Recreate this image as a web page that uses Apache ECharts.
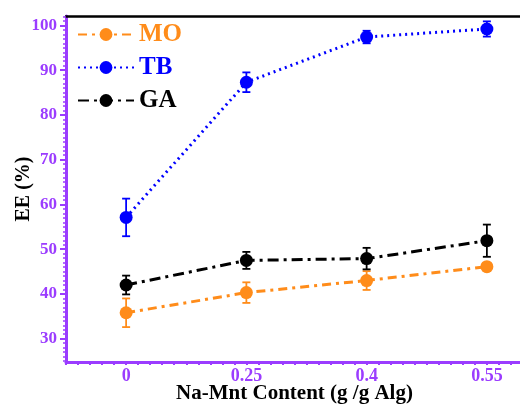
<!DOCTYPE html>
<html><head><meta charset="utf-8">
<script src="https://cdn.jsdelivr.net/npm/echarts@6/dist/echarts.min.js"></script>
<style>html,body{margin:0;padding:0;background:#fff}#c{width:520px;height:406px}</style>
</head><body><div id="c"></div>
<script>
const categories = ['0', '0.25', '0.4', '0.55'];
const seriesNames = ['MO', 'TB', 'GA'];
const moValues = [35.8, 40.3, 43.0, 46.1];
const moErrors = [3.2, 2.3, 2.1, 0.8];
const tbValues = [57.1, 87.3, 97.4, 99.2];
const tbErrors = [4.2, 2.2, 1.4, 1.7];
const gaValues = [42.0, 47.5, 47.9, 51.9];
const gaErrors = [2.1, 1.9, 2.4, 3.6];
const yMajorTicks = [30, 40, 50, 60, 70, 80, 90, 100];

const FONT = 'Liberation Serif';
const PURPLE = '#9b3cff';
const colors = { MO: '#ff8c1a', TB: '#0000ff', GA: '#000000' };
const lineTypes = { MO: [9, 5, 3, 5], TB: [2, 4], GA: [11, 5, 3, 5] };
const valuesBy = { MO: moValues, TB: tbValues, GA: gaValues };
const errorsBy = { MO: moErrors, TB: tbErrors, GA: gaErrors };

const yMinorTicks = [];
for (let v = 25; v <= 102; v++) yMinorTicks.push(v);

const Y_MIN = 24.8, Y_MAX = 102.1;

const chart = echarts.init(document.getElementById('c'));

function errRender(color) {
  return function (params, api) {
    const x = api.value(0), y = api.value(1), e = api.value(2);
    const hi = api.coord([x, y + e]);
    const lo = api.coord([x, y - e]);
    const cw = 4;
    const st = { stroke: color, lineWidth: 1.8 };
    return {
      type: 'group',
      children: [
        { type: 'line', shape: { x1: hi[0], y1: hi[1], x2: lo[0], y2: lo[1] }, style: st },
        { type: 'line', shape: { x1: hi[0] - cw, y1: hi[1], x2: hi[0] + cw, y2: hi[1] }, style: st },
        { type: 'line', shape: { x1: lo[0] - cw, y1: lo[1], x2: lo[0] + cw, y2: lo[1] }, style: st }
      ]
    };
  };
}

const series = [];
seriesNames.forEach(n => {
  series.push({
    name: n + ' err', type: 'custom', xAxisIndex: 0, yAxisIndex: 0, z: 3,
    renderItem: errRender(colors[n]),
    data: categories.map((c, i) => [i, valuesBy[n][i], errorsBy[n][i]]),
    silent: true
  });
});
seriesNames.forEach(n => {
  series.push({
    name: n, type: 'line', xAxisIndex: 0, yAxisIndex: 0, z: 4,
    data: valuesBy[n],
    symbol: 'circle', symbolSize: 13,
    itemStyle: { color: colors[n] },
    lineStyle: { color: colors[n], width: 3, type: lineTypes[n] },
    animation: false
  });
});

chart.setOption({
  animation: false,
  grid: { left: 66, top: 16, width: 481, height: 346, outerBoundsMode: 'none', containLabel: false },
  legend: {
    left: 72, top: 17, orient: 'vertical',
    itemWidth: 56, itemHeight: 16, itemGap: 8,
    data: seriesNames.map(n => ({ name: n, textStyle: { color: colors[n] } })),
    textStyle: { fontFamily: FONT, fontWeight: 'bold', fontSize: 25 }
  },
  xAxis: [
    {
      type: 'category', data: categories, position: 'bottom', boundaryGap: true,
      axisLine: { onZero: false, lineStyle: { color: PURPLE, width: 3 } },
      axisTick: { alignWithLabel: true, length: 6, lineStyle: { color: PURPLE, width: 2 } },
      axisLabel: { color: PURPLE, fontFamily: FONT, fontWeight: 'bold', fontSize: 18, margin: 5 },
      name: 'Na-Mnt Content (g /g Alg)', nameLocation: 'middle', nameGap: 21, nameMoveOverlap: false,
      nameTextStyle: { color: '#000', fontFamily: FONT, fontWeight: 'bold', fontSize: 21, padding: [0, 24, 0, 0] },
      splitLine: { show: false }
    },
    {
      type: 'value', min: -0.5, max: 3.5, interval: 0.1, position: 'bottom',
      axisLine: { show: false, onZero: false },
      axisTick: { show: true, length: 3, lineStyle: { color: PURPLE, width: 2 } },
      axisLabel: { show: false }, splitLine: { show: false }
    },
    {
      type: 'value', min: 0, max: 1, position: 'top',
      axisLine: { show: true, onZero: false, lineStyle: { color: '#000', width: 2.5 } },
      axisTick: { show: false }, axisLabel: { show: false }, splitLine: { show: false }
    }
  ],
  yAxis: [
    {
      type: 'value', min: Y_MIN, max: Y_MAX, position: 'left',
      axisLine: { show: true, onZero: false, lineStyle: { color: PURPLE, width: 3 } },
      axisTick: { show: true, length: 6, customValues: yMajorTicks, lineStyle: { color: PURPLE, width: 2 } },
      axisLabel: { customValues: yMajorTicks, color: PURPLE, fontFamily: FONT, fontWeight: 'bold', fontSize: 17, margin: 9 },
      splitLine: { show: false },
      name: 'EE (%)', nameLocation: 'middle', nameGap: 32, nameRotate: 90, nameMoveOverlap: false,
      nameTextStyle: { color: '#000', fontFamily: FONT, fontWeight: 'bold', fontSize: 20 }
    },
    {
      type: 'value', min: Y_MIN, max: Y_MAX, position: 'left',
      axisLine: { show: false, onZero: false },
      axisTick: { show: true, length: 3, customValues: yMinorTicks, lineStyle: { color: PURPLE, width: 1.5 } },
      axisLabel: { show: false }, splitLine: { show: false }
    }
  ],
  series: series
});
</script></body></html>
